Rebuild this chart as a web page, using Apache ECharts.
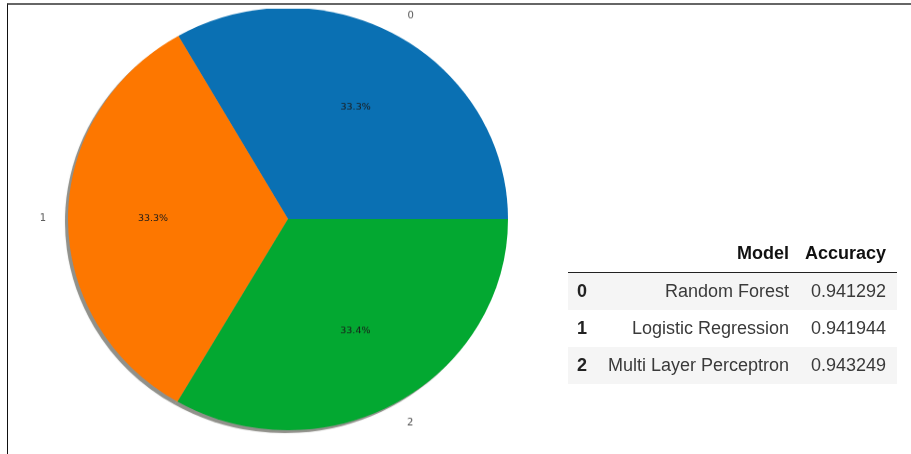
<!DOCTYPE html>
<html>
<head>
<meta charset="utf-8">
<script src="https://cdn.jsdelivr.net/npm/echarts@6/dist/echarts.min.js"></script>
<style>
  html, body { margin: 0; padding: 0; background: #fff; }
  #wrap { position: relative; width: 911px; height: 454px; overflow: hidden; }
  #frame {
    position: absolute; left: 7px; top: 3px; right: 0; bottom: -4px;
    border-top: 2px solid #666; border-left: 1px solid #111;
  }
  /* the source screenshot is slightly squashed vertically */
  #chart {
    position: absolute; left: 0; top: 0; width: 911px; height: 454px;
    transform: scale(1, 0.96); transform-origin: 288px 219px;
  }
  #tbl {
    position: absolute; left: 568px; top: 235px; width: 329px;
    border-collapse: collapse; table-layout: fixed;
    font-family: "Liberation Sans", Arial, sans-serif; font-size: 18px; color: #3a3a3a;
  }
  #tbl th, #tbl td { height: 37px; padding: 0; white-space: nowrap; }
  #tbl thead th { color: #111; font-weight: bold; text-align: right; border-bottom: 1px solid #222; }
  #tbl .idx { text-align: left; padding-left: 9px; font-weight: bold; color: #222; }
  #tbl .mdl { text-align: right; padding-right: 9px; }
  #tbl .acc { text-align: right; padding-right: 11px; }
  #tbl tbody tr:nth-child(odd) { background: #f5f5f5; }
</style>
</head>
<body>
<div id="wrap">
  <div id="frame"></div>
  <div id="chart"></div>
  <table id="tbl">
    <colgroup><col style="width:30px"><col style="width:200px"><col style="width:99px"></colgroup>
    <thead><tr><th></th><th class="mdl">Model</th><th class="acc">Accuracy</th></tr></thead>
    <tbody></tbody>
  </table>
</div>
<script>
// pie slices = accuracy per model, labelled by row index
const indexLabels = ["0", "1", "2"];
const models = ["Random Forest", "Logistic Regression", "Multi Layer Perceptron"];
const accuracy = [0.941292, 0.941944, 0.943249];
const colors = ["#0a70b3", "#fd7700", "#03a831"];

// table
const tbody = document.querySelector("#tbl tbody");
models.forEach(function (m, i) {
  const tr = document.createElement("tr");
  tr.innerHTML = '<td class="idx">' + indexLabels[i] + '</td><td class="mdl">' + m +
    '</td><td class="acc">' + accuracy[i].toFixed(6) + '</td>';
  tbody.appendChild(tr);
});

const CX = 288, CY = 219, R = 220;
const pieData = accuracy.map(function (v, i) {
  return { name: indexLabels[i], value: v, itemStyle: { color: colors[i] } };
});
const plain = accuracy.map(function (v, i) { return { name: indexLabels[i], value: v }; });

const chart = echarts.init(document.getElementById("chart"));
const common = { type: "pie", startAngle: 0, clockwise: false, animation: false, silent: true,
  emphasis: { disabled: true }, labelLine: { show: false } };

chart.setOption({
  series: [
    // shadow
    Object.assign({}, common, {
      center: [CX - 3, CY + 3], radius: R, z: 1,
      data: plain,
      itemStyle: { color: "rgba(90,90,80,0.6)", shadowBlur: 2, shadowColor: "rgba(0,0,0,0.2)" },
      label: { show: false }
    }),
    // wedges
    Object.assign({}, common, {
      center: [CX, CY], radius: R, z: 2,
      data: pieData,
      label: { show: false }
    }),
    // percentage labels at 0.6 R
    Object.assign({}, common, {
      center: [CX, CY], radius: R * 1.2, z: 3,
      data: plain,
      itemStyle: { color: "transparent" },
      label: {
        show: true, position: "inside",
        fontFamily: "DejaVu Sans", fontSize: 9.5, color: "#1b1b1b",
        formatter: function (p) { return p.percent.toFixed(1) + "%"; }
      }
    }),
    // index labels at 1.1 R
    Object.assign({}, common, {
      center: [CX, CY], radius: R * 2.2, z: 3,
      data: plain,
      itemStyle: { color: "transparent" },
      label: {
        show: true, position: "inside",
        fontFamily: "DejaVu Sans", fontSize: 10, color: "#555",
        formatter: "{b}"
      }
    })
  ]
});
</script>
</body>
</html>
